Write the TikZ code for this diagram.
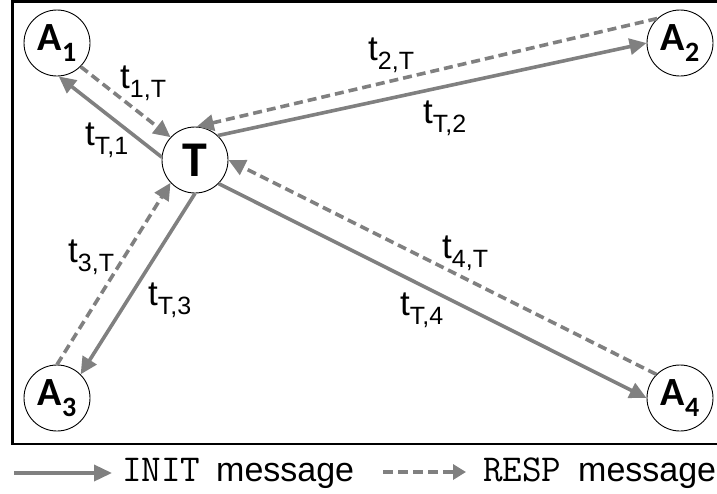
\documentclass[tikz,border=0pt]{standalone}
\usepackage{fontspec}
\setmainfont{Liberation Sans}
\newfontfamily\calfnt{Carlito}
\usetikzlibrary{arrows.meta}
\definecolor{arr}{RGB}{128,128,128}
\newcommand{\tlab}[1]{t\raisebox{-0.26em}{\fontsize{25}{25}\selectfont #1}}
\newcommand{\alab}[1]{A\raisebox{-0.28em}{\fontsize{28}{28}\selectfont #1}}
\begin{document}
\begin{tikzpicture}[x=1pt,y=-1pt,
  agent/.style={circle,draw=black,line width=0.9pt,minimum size=66pt,inner sep=0pt,
    font=\calfnt\bfseries\fontsize{40}{40}\selectfont},
  hub/.style={agent,font=\calfnt\bfseries\fontsize{50}{50}\selectfont},
  initmsg/.style={draw=arr,line width=3.6pt,-{Triangle[length=17pt,width=16pt]}},
  respmsg/.style={initmsg,dash pattern=on 9pt off 5pt},
  lab/.style={font=\fontsize{35}{35}\selectfont,inner sep=0pt,anchor=base west},
  leg/.style={font=\fontsize{34}{34}\selectfont,inner sep=0pt,anchor=base west},
  mono/.style={leg,font=\ttfamily\fontsize{38}{38}\selectfont}]
\useasboundingbox (0,0) rectangle (717,493);
\draw[line width=2.2pt] (717,1.5) -- (12.5,1.5) -- (12.5,444) -- (717,444);

\node[agent] (A1) at (57,43) {\alab{1}};
\node[agent] (A2) at (680,43) {\alab{2}};
\node[agent] (A3) at (57,398) {\alab{3}};
\node[agent] (A4) at (680,398) {\alab{4}};
\node[hub] (T) at (195,160) {T};

\draw[respmsg] (A1.315) -- (T.137);
\draw[initmsg] (T.175) -- (A1.273);
\draw[respmsg] (A2.133) -- (T.87);
\draw[initmsg] (T.47) -- (A2.180);
\draw[respmsg] (A3.90) -- (T.223);
\draw[initmsg] (T.270) -- (A3.45);
\draw[respmsg] (A4.135) -- (T.0);
\draw[initmsg] (T.315) -- (A4.180);

\node[lab] (l1) at (120,88) {\tlab{1,T}};
\node[lab] (l2) at (85,145) {\tlab{T,1}};
\node[lab] (l3) at (368,60) {\tlab{2,T}};
\node[lab] (l4) at (423,123) {\tlab{T,2}};
\node[lab] (l5) at (68,262) {\tlab{3,T}};
\node[lab] (l6) at (148,305) {\tlab{T,3}};
\node[lab] (l7) at (442,258) {\tlab{4,T}};
\node[lab] (l8) at (400,315) {\tlab{T,4}};

\coordinate (ls1) at (14,473);
\coordinate (le1) at (112,473);
\draw[draw=arr,line width=3.6pt,-{Triangle[length=18pt,width=16pt]}] (ls1) -- (le1);
\node[mono] (t1) at (122,481) {INIT};
\node[leg] (m1) at (216,481) {message};
\coordinate (ls2) at (383,472);
\coordinate (le2) at (466,472);
\draw[draw=arr,line width=3.6pt,dash pattern=on 10pt off 5pt,-{Triangle[length=13pt,width=15pt]}] (ls2) -- (le2);
\node[mono] (t2) at (483,481) {RESP};
\node[leg] (m2) at (578,481) {message};
\end{tikzpicture}
\end{document}
